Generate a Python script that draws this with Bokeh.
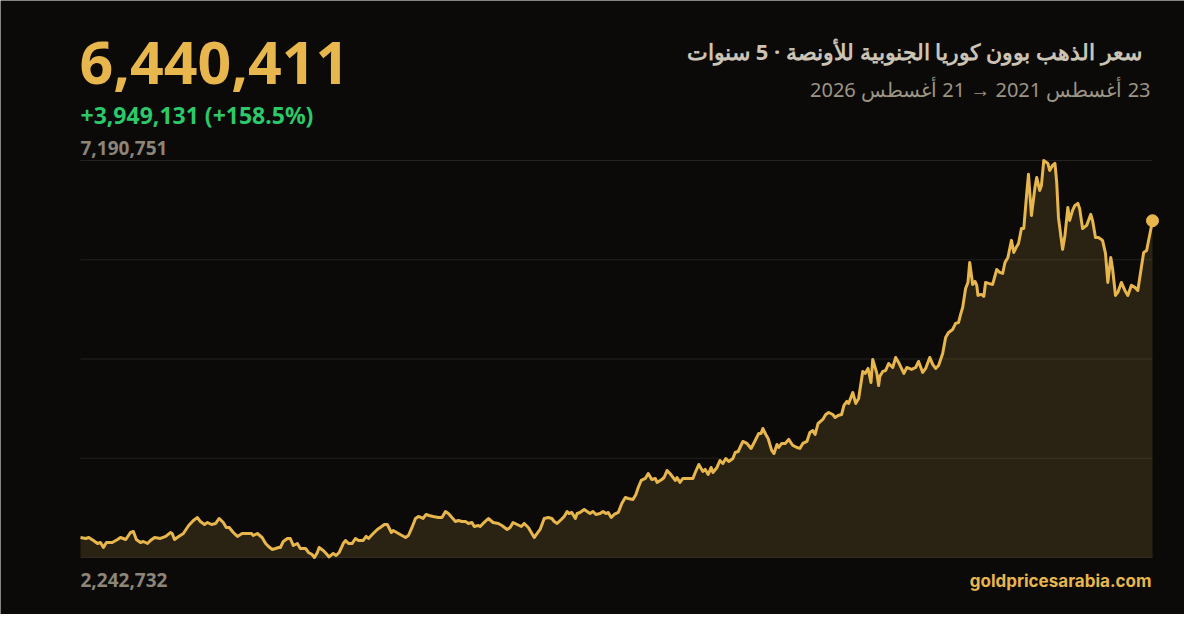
from bokeh.plotting import figure
from bokeh.models import Label, Range1d, ColumnDataSource
from bokeh.embed import file_html
from bokeh.resources import INLINE

# ---------------- data ----------------
start_label = "23 أغسطس 2021"
end_label = "21 أغسطس 2026"
title_text = "سعر الذهب بوون كوريا الجنوبية للأونصة · 5 سنوات"
site_text = "goldpricesarabia.com"

# days since 2021-08-23
day_offsets = [
    0, 9, 14, 22, 29, 34, 39, 44, 54, 63, 68, 77, 85, 90, 95, 102, 107, 114, 119, 126,
    136, 145, 153, 156, 160, 167, 175, 184, 192, 199, 204, 211, 216, 223, 230, 236, 243, 248, 253, 260,
    267, 275, 284, 291, 294, 301, 309, 315, 320, 326, 332, 337,
    340, 345, 352, 357, 362, 369, 374, 383, 388, 394, 398, 403, 406, 413, 418, 423, 430, 435, 440, 447,
    451, 456, 462, 468, 473, 481, 486, 490, 498, 505, 510, 517, 522, 529, 532, 541, 547, 553, 558, 564,
    570, 575, 583, 588, 593, 600, 609, 615, 621, 626, 632, 638, 643, 649, 655, 660, 666, 670, 677,
    680, 685, 694, 702, 711, 717, 726, 731, 736, 743, 750, 755, 762, 768, 772, 777, 782, 789, 796, 802,
    806, 811, 818, 823, 828, 831, 836, 842, 845, 850, 857, 862, 867, 872, 877, 884, 889, 894, 898, 903,
    908, 915, 921, 927, 932, 940, 945, 949, 954, 961, 966, 972, 978, 981, 989, 993, 998, 1003, 1012, 1015,
    1020,
    1025, 1042, 1046, 1052, 1059, 1063, 1068, 1073, 1076, 1083, 1088, 1093, 1098, 1103, 1110, 1114, 1119, 1127, 1134, 1141,
    1148, 1154, 1158, 1161, 1166, 1170, 1176, 1180, 1185, 1188, 1193, 1199, 1205, 1212, 1219, 1224, 1229, 1236, 1241, 1246,
    1250, 1255, 1263, 1268, 1273, 1280, 1284, 1289, 1295, 1299, 1304, 1307, 1314, 1319, 1324, 1331, 1335, 1340, 1345, 1348,
    1355, 1358,
    1360, 1365, 1370, 1375, 1382, 1387, 1392, 1401, 1406, 1414, 1421, 1426, 1433, 1438, 1445, 1450, 1455, 1460, 1467, 1472,
    1477, 1484, 1489, 1494, 1498, 1501, 1506, 1510, 1513, 1518, 1522, 1525, 1527, 1533, 1537, 1540, 1545, 1552, 1559, 1564,
    1569, 1573, 1578, 1584, 1588, 1593, 1596,
    1601, 1605, 1610, 1613, 1618, 1624, 1627, 1632, 1635, 1639, 1646, 1649, 1654, 1658, 1661, 1664, 1669, 1671, 1675, 1680,
    1683, 1688, 1692, 1697, 1700, 1705, 1712, 1719, 1722, 1727, 1732, 1739, 1744, 1748, 1753, 1756, 1761, 1765, 1771, 1777,
    1782, 1788, 1794, 1799, 1805, 1809, 1814, 1824,
]

# gold price per ounce, thousand KRW
price_k = [
    2491.280, 2480, 2492, 2455, 2417, 2430, 2367, 2430, 2430, 2467, 2492, 2467, 2554, 2567, 2467, 2430, 2442, 2417, 2455, 2492,
    2480, 2505, 2554, 2542, 2467, 2505, 2542, 2642, 2704, 2741, 2691, 2654, 2679, 2654, 2667, 2729, 2679, 2617, 2617, 2554,
    2505, 2542, 2542, 2542, 2517, 2542, 2492, 2417, 2380, 2343, 2355, 2367,
    2367, 2442, 2480, 2480, 2392, 2417, 2355, 2355, 2305, 2280, 2242.732, 2305, 2367, 2330, 2293, 2250, 2293, 2268, 2305, 2417,
    2455, 2417, 2417, 2480, 2455, 2455, 2505, 2480, 2542, 2592, 2617, 2654, 2654, 2554, 2579, 2542, 2517, 2492, 2517, 2617,
    2729, 2754, 2729, 2779, 2766, 2754, 2741, 2741, 2816, 2791, 2741, 2691, 2704, 2691, 2691, 2667, 2679, 2629, 2642,
    2629, 2667, 2729, 2679, 2667, 2642, 2592, 2617, 2679, 2654, 2629, 2667, 2617, 2542, 2492, 2542, 2592, 2729, 2741, 2729,
    2691, 2667, 2716, 2754, 2816, 2791, 2804, 2729, 2791, 2804, 2841, 2816, 2791, 2816, 2779, 2791, 2816, 2791, 2804, 2741,
    2779, 2804, 2916, 2991, 2978, 2966, 3028, 3115, 3203, 3228, 3290, 3215, 3228, 3178, 3215, 3240, 3327, 3290, 3203, 3240,
    3178,
    3228, 3228, 3302, 3402, 3315, 3340, 3277, 3365, 3302, 3365, 3452, 3415, 3477, 3440, 3477, 3552, 3564, 3689, 3664, 3602,
    3701, 3789, 3789, 3851, 3776, 3726, 3577, 3539, 3651, 3614, 3664, 3664, 3714, 3639, 3614, 3602, 3664, 3689, 3801, 3826,
    3776, 3913, 3963, 4025, 4050, 4025, 3988, 4013, 4025, 4138, 4188, 4163, 4300, 4163, 4225, 4562, 4537, 4599, 4424, 4711,
    4537, 4387,
    4499, 4562, 4574, 4661, 4611, 4736, 4674, 4537, 4611, 4587, 4611, 4686, 4549, 4599, 4736, 4649, 4599, 4636, 4786, 4985,
    5048, 5085, 5160, 5172, 5285, 5359, 5596, 5671, 5920, 5646, 5684, 5634, 5509, 5522, 5497, 5671, 5659, 5646, 5833, 5796,
    5783, 5920, 5983, 6195, 6045, 6120, 6157,
    6344, 6344, 6781, 7018, 6506, 6855, 6980, 6818, 6880, 7190.751, 7155, 7067, 7130, 7155, 6918, 6481, 6195, 6083, 6257, 6606,
    6444, 6569, 6631, 6656, 6594, 6344, 6382, 6519, 6444, 6232, 6232, 6195, 6033, 5671, 5983, 5846, 5509, 5547, 5671, 5571,
    5509, 5634, 5609, 5571, 5858, 6045, 6070, 6440.411,
]

prices = [int(round(v * 1000)) for v in price_k]

# ---------------- style / layout ----------------
BG = "#0b0a09"
GOLD = "#e7b64d"
GREEN = "#2cc86a"
GRAY = "#8c8679"
TITLE_C = "#cbc4b5"
SUB_C = "#9c9586"
GRID_C = "#24221d"

W, H = 1184, 614
PL, PR = 80, 1152      # plot area left/right (px from left)
PT, PB = 160, 557      # plot area top/bottom (px from top)

x0, x1 = day_offsets[0], day_offsets[-1]
vmin, vmax = min(prices), max(prices)
xs = (x1 - x0) / (PR - PL)
ys = (vmax - vmin) / (PB - PT)

p = figure(width=W, height=H,
           x_range=Range1d(x0 - PL * xs, x1 + (W - PR) * xs),
           y_range=Range1d(vmin - (H - PB) * ys, vmax + PT * ys),
           x_axis_location=None, y_axis_location=None,
           toolbar_location=None, output_backend="svg",
           min_border=0, background_fill_color=BG, border_fill_color=BG,
           outline_line_color=None)
p.xgrid.visible = False
p.ygrid.visible = False

# horizontal guide lines (min .. max in 4 steps)
grid_vals = [vmin + i * (vmax - vmin) / 4 for i in range(5)]
p.segment(x0=[x0] * 5, x1=[x1] * 5, y0=grid_vals, y1=grid_vals,
          line_color=GRID_C, line_width=1)

src = ColumnDataSource(dict(x=day_offsets, y=prices, base=[vmin] * len(prices)))
p.varea(x="x", y1="base", y2="y", source=src, fill_color=GOLD, fill_alpha=0.14)
p.line(x="x", y="y", source=src, line_color=GOLD, line_width=3, line_join="round")
p.scatter(x=[day_offsets[-1]], y=[prices[-1]], size=12, color=GOLD)

first, last = prices[0], prices[-1]
chg = last - first
pct = chg / first * 100

def lab(text, x, y_top, size, color, align="left", style="bold", font="Noto Sans"):
    p.add_layout(Label(x=x, y=H - y_top, x_units="screen", y_units="screen", text=text,
                       text_font=font, text_font_size=size, text_font_style=style,
                       text_color=color, text_align=align, text_baseline="alphabetic"))

lab(f"{last:,}", PL - 1, 62, "59px", GOLD)
lab(f"+{chg:,} (+{pct:.1f}%)", PL, 114, "23px", GREEN)
lab(f"{vmax:,}", PL, 147, "19px", GRAY)
lab(f"{vmin:,}", PL, 579, "19px", GRAY)
lab(site_text, PR - 1, 580, "17px", GOLD, align="right", font="Inter")
lab("\u202b" + title_text + "\u202c", 1141, 50, "22px", TITLE_C, align="right")
lab("\u202b" + start_label + " → " + end_label + "\u202c", PR - 2, 89, "20px", SUB_C,
    align="right", style="normal")

open("out.html", "w").write(file_html(p, INLINE))
